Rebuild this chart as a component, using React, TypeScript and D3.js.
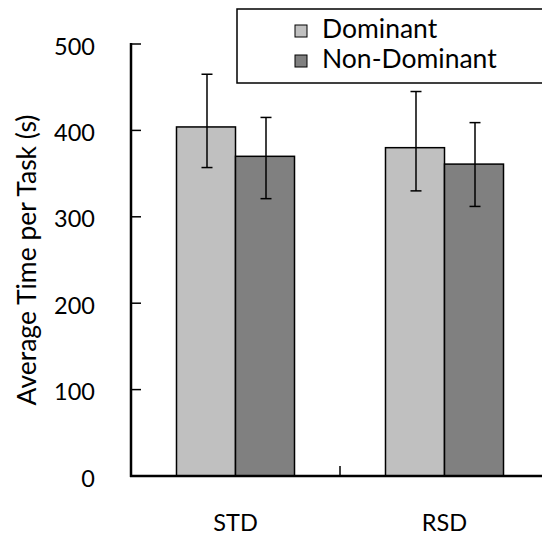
import React from "react";
import * as d3 from "d3";

const categories = ["STD", "RSD"];
const seriesNames = ["Dominant", "Non-Dominant"];
const dominantMean = [404, 380];
const nonDominantMean = [370, 361];
const dominantHigh = [465, 445];
const dominantLow = [357, 330];
const nonDominantHigh = [415, 409];
const nonDominantLow = [321, 312];
const yTicks = [0, 100, 200, 300, 400, 500];
const seriesColors = ["#c0c0c0", "#808080"];

const W = 542;
const H = 538;
const FONT = "Lato, 'Noto Sans', sans-serif";

export default function App() {
  const y = d3.scaleLinear().domain([0, 500]).range([476, 44]);
  const x = d3.scaleBand().domain(categories).range([131, 549]).paddingInner(0).paddingOuter(0);
  const xs = d3.scaleBand().domain(seriesNames).range([0, x.bandwidth()]).paddingInner(0).paddingOuter(0.771);

  const series = [
    { name: seriesNames[0], mean: dominantMean, hi: dominantHigh, lo: dominantLow, color: seriesColors[0] },
    { name: seriesNames[1], mean: nonDominantMean, hi: nonDominantHigh, lo: nonDominantLow, color: seriesColors[1] },
  ];

  const capHalf = 5.5;

  return (
    <svg width={W} height={H} style={{ position: "absolute", left: 0, top: 0, background: "#fff" }} fontFamily={FONT}>
      {/* bars */}
      {series.map((s) =>
        categories.map((c, i) => {
          const bx = (x(c) as number) + (xs(s.name) as number);
          return (
            <rect key={s.name + c} x={bx} y={y(s.mean[i])} width={xs.bandwidth()} height={y(0) - y(s.mean[i])}
              fill={s.color} stroke="#000" strokeWidth={1.5} />
          );
        })
      )}
      {/* error bars */}
      {series.map((s) =>
        categories.map((c, i) => {
          const cx = (x(c) as number) + (xs(s.name) as number) + xs.bandwidth() / 2 + 1;
          return (
            <g key={"e" + s.name + c} stroke="#000" strokeWidth={1.5}>
              <line x1={cx} x2={cx} y1={y(s.hi[i])} y2={y(s.lo[i])} />
              <line x1={cx - capHalf} x2={cx + capHalf} y1={y(s.hi[i])} y2={y(s.hi[i])} />
              <line x1={cx - capHalf} x2={cx + capHalf} y1={y(s.lo[i])} y2={y(s.lo[i])} />
            </g>
          );
        })
      )}
      {/* y axis */}
      <line x1={131} x2={131} y1={y(500) - 1} y2={y(0) + 1} stroke="#000" strokeWidth={2.5} />
      {yTicks.map((t) => (
        <g key={t}>
          {t > 0 && <line x1={131} x2={141} y1={y(t)} y2={y(t)} stroke="#000" strokeWidth={1.5} />}
          <text x={95} y={y(t) + 1.5} textAnchor="end" dominantBaseline="central" fontSize={23.5} fill="#000">{t}</text>
        </g>
      ))}
      {/* x axis */}
      <line x1={130} x2={W} y1={y(0)} y2={y(0)} stroke="#000" strokeWidth={2.5} />
      {categories.slice(1).map((c) => (
        <line key={"xt" + c} x1={x(c) as number} x2={x(c) as number} y1={y(0)} y2={y(0) - 10} stroke="#000" strokeWidth={1.5} />
      ))}
      {categories.map((c) => (
        <text key={"xl" + c} x={(x(c) as number) + x.bandwidth() / 2} y={531} textAnchor="middle" fontSize={23.5} fill="#000">{c}</text>
      ))}
      {/* y label */}
      <text transform={`translate(36,${(y(0) + y(500)) / 2}) rotate(-90)`} textAnchor="middle" fontSize={26.5} fill="#000">
        Average Time per Task (s)
      </text>
      {/* legend */}
      <rect x={237} y={9} width={340} height={74} fill="#fff" stroke="#000" strokeWidth={1.5} />
      {series.map((s, i) => (
        <g key={"lg" + s.name}>
          <rect x={295} y={25 + i * 30} width={12} height={12} fill={s.color} stroke="#000" strokeWidth={1} />
          <text x={322} y={38 + i * 30} fontSize={26.5} fill="#000">{s.name}</text>
        </g>
      ))}
    </svg>
  );
}
